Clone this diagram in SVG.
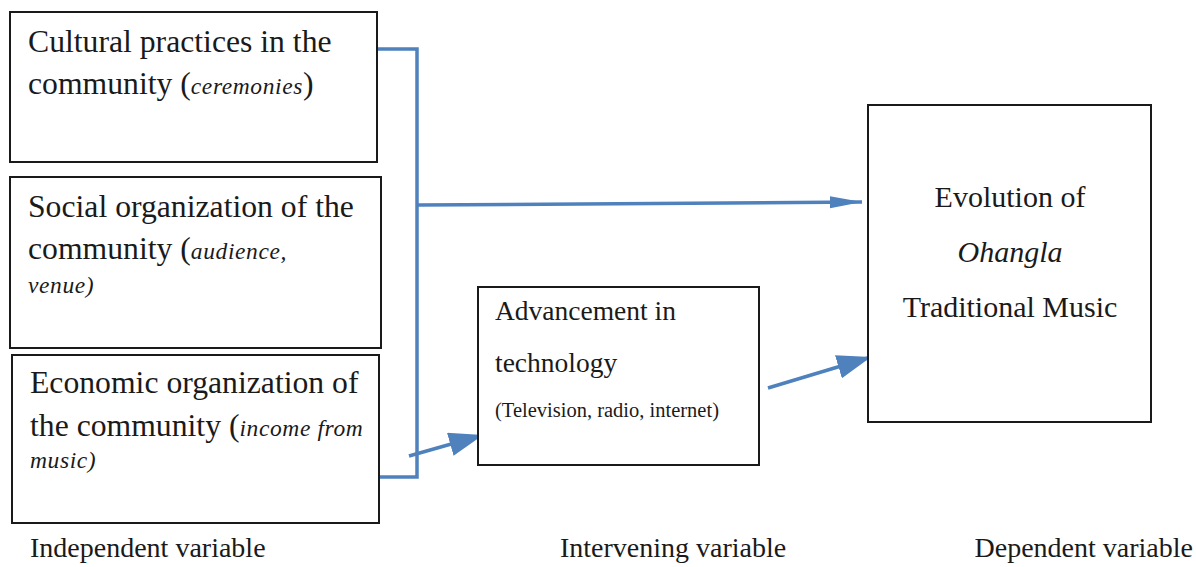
<svg xmlns="http://www.w3.org/2000/svg" width="1196" height="567" viewBox="0 0 1196 567">
<defs>
<style>
.box{fill:#fff;stroke:#1a1a1a;stroke-width:2}
.t{font-family:"Liberation Serif","Times New Roman",serif;fill:#1a1a1a}
.main{font-size:31.7px}
.it{font-style:italic;font-size:23.5px;letter-spacing:0.6px}
.conn{fill:none;stroke:#4F81BD;stroke-width:3.5}
.lbl{font-size:28px}
</style>
<marker id="ah" markerUnits="userSpaceOnUse" markerWidth="36" markerHeight="26" refX="34" refY="12" orient="auto">
<path d="M0,0 L34,12 L0,24 Z" fill="#4F81BD"/>
</marker>
<marker id="ahs" markerUnits="userSpaceOnUse" markerWidth="34" markerHeight="14" refX="32" refY="6" orient="auto">
<path d="M0,0 L32,6 L0,12 Z" fill="#4F81BD"/>
</marker>
</defs>
<rect width="1196" height="567" fill="#fff"/>

<g id="connectors">
<path class="conn" d="M377,49 H417 V477 H379"/>
<line class="conn" x1="418" y1="205" x2="862" y2="202" marker-end="url(#ahs)"/>
<line class="conn" x1="409" y1="456" x2="483" y2="435" marker-end="url(#ah)"/>
<line class="conn" x1="768" y1="388" x2="871" y2="357" marker-end="url(#ah)"/>
</g>

<g id="node-cultural">
<rect class="box" x="10" y="12" width="367" height="150"/>
<text class="t main" x="28" y="52">Cultural practices in the</text>
<text class="t main" x="28" y="94">community (<tspan class="it">ceremonies</tspan>)</text>
</g>

<g id="node-social">
<rect class="box" x="10" y="177" width="371" height="171"/>
<text class="t main" x="28" y="217">Social organization of the</text>
<text class="t main" x="28" y="259">community (<tspan class="it">audience,</tspan></text>
<text class="t it" x="28" y="293">venue)</text>
</g>

<g id="node-economic">
<rect class="box" x="12" y="355" width="367" height="168"/>
<text class="t main" x="30" y="393">Economic organization of</text>
<text class="t main" x="30" y="436">the community (<tspan class="it">income from</tspan></text>
<text class="t it" x="30" y="468">music)</text>
</g>

<g id="node-technology">
<rect class="box" x="478" y="287" width="281" height="178"/>
<text class="t" x="495" y="320" font-size="27.5">Advancement in</text>
<text class="t" x="495" y="372" font-size="27.5">technology</text>
<text class="t" x="495" y="417" font-size="20.5">(Television, radio, internet)</text>
</g>

<g id="node-evolution">
<rect class="box" x="868" y="105" width="283" height="317"/>
<text class="t" x="1010" y="207" font-size="30" text-anchor="middle">Evolution of</text>
<text class="t" x="1010" y="262" font-size="30" font-style="italic" text-anchor="middle">Ohangla</text>
<text class="t" x="1010" y="317" font-size="30" text-anchor="middle">Traditional Music</text>
</g>

<g id="labels">
<text class="t lbl" x="30" y="557">Independent variable</text>
<text class="t lbl" x="560" y="557" font-size="28.5">Intervening variable</text>
<text class="t lbl" x="1193" y="557" text-anchor="end" font-size="27">Dependent variable</text>
</g>
</svg>
